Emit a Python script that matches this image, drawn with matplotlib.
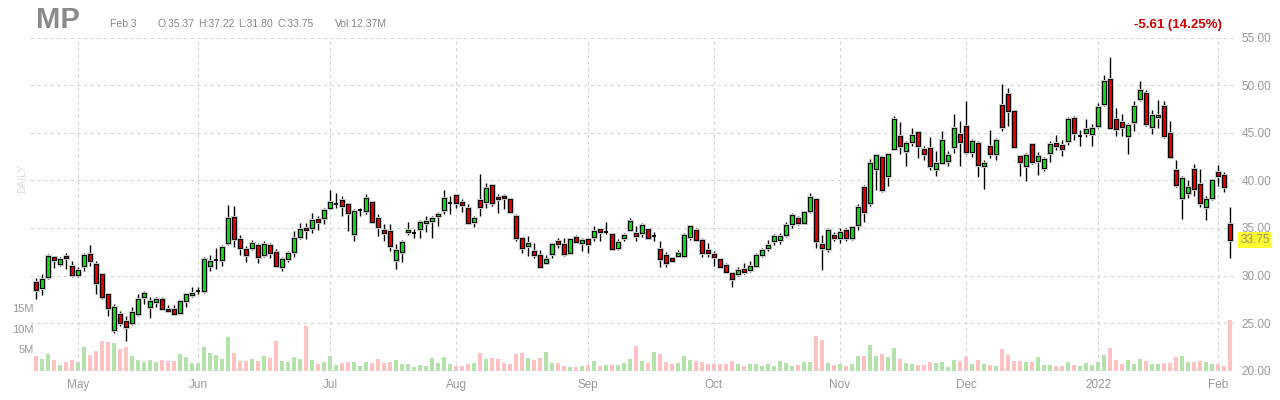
import numpy as np
import matplotlib
matplotlib.use('Agg')
import matplotlib.pyplot as plt
from matplotlib.transforms import blended_transform_factory

plt.rcParams['font.family'] = ['Liberation Sans', 'DejaVu Sans']

# daily candles, Apr 22 2021 .. Feb 3 2022
opens = [29.37, 28.72, 29.90, 32.00, 31.19, 32.07, 31.00,
         30.05, 31.00, 32.30, 31.26, 30.20, 28.05, 24.27, 25.95, 25.20, 25.00,
         25.95, 27.70, 26.70, 27.25, 27.50, 26.45, 26.50, 26.10, 27.35, 28.00,
         28.40, 28.40, 31.00, 31.60, 31.60, 33.47, 36.14, 33.82, 32.77, 32.88,
         33.23, 32.18, 33.23, 32.46, 30.95, 31.72, 32.50, 34.06, 35.04, 34.97,
         35.95, 36.09, 37.07, 37.53, 37.90, 37.56, 34.34, 36.93, 36.79, 37.74,
         36.09, 34.80, 34.70, 31.68, 32.50, 34.60, 34.45, 34.93, 35.50, 35.74,
         36.23, 36.86, 37.67, 38.47, 37.74, 37.07, 35.67, 37.98, 37.74, 39.49,
         38.26, 38.40, 38.00, 36.23, 33.92, 33.08, 32.59, 32.13, 31.36, 32.31,
         33.64, 33.30, 32.42, 34.10, 33.40, 33.82, 34.03, 34.87, 34.63, 34.38,
         32.87, 33.90, 34.84, 34.49, 34.45, 34.87, 34.17, 32.80, 32.14, 31.82,
         32.10, 32.10, 34.03, 34.80, 33.75, 32.70, 32.28, 31.72, 31.12, 30.24,
         30.14, 30.66, 30.59, 31.05, 32.14, 32.94, 33.68, 33.75, 34.28, 35.40,
         36.03, 35.51, 36.80, 38.07, 33.30, 32.77, 34.28, 33.93, 34.74, 34.00,
         35.33, 39.30, 37.62, 41.20, 42.46, 40.42, 43.30, 44.64, 43.13, 44.00,
         45.09, 43.34, 43.41, 41.20, 41.83, 42.00, 43.51, 44.88, 45.76, 42.95,
         43.93, 41.55, 43.65, 42.78, 47.97, 49.13, 47.34, 42.60, 41.55, 43.83,
         42.07, 41.30, 42.88, 43.93, 43.75, 44.10, 46.56, 44.70, 44.98, 44.88,
         45.76, 48.07, 50.70, 46.49, 46.14, 44.70, 46.11, 48.56, 49.19, 45.61,
         46.67, 47.79, 44.98, 41.05, 38.14, 38.66, 41.19, 39.61, 37.19, 38.14,
         40.84, 40.60, 35.37]
highs = [29.79, 30.20, 32.30, 32.07, 31.90, 32.40, 31.50,
         30.85, 32.40, 33.20, 31.54, 30.30, 28.20, 27.00, 26.30, 25.80, 26.65,
         28.05, 28.40, 27.70, 27.70, 27.70, 26.90, 26.90, 27.45, 28.20, 28.75,
         28.80, 31.90, 32.20, 32.90, 33.20, 37.44, 37.27, 34.28, 33.12, 33.75,
         33.40, 33.58, 33.47, 32.77, 32.00, 32.63, 34.70, 35.57, 35.57, 36.60,
         36.30, 37.14, 38.96, 38.70, 38.40, 37.67, 36.97, 37.14, 38.60, 37.84,
         36.44, 35.40, 35.46, 33.29, 33.71, 35.64, 34.87, 35.81, 36.27, 36.27,
         36.72, 38.96, 38.36, 38.61, 38.00, 37.49, 36.27, 40.64, 39.77, 39.59,
         38.54, 38.54, 38.12, 36.44, 34.06, 34.17, 33.46, 32.66, 32.13, 33.46,
         33.92, 33.90, 33.93, 34.28, 33.93, 33.93, 35.16, 34.98, 35.61, 34.45,
         33.82, 34.52, 36.03, 35.26, 35.51, 35.05, 34.63, 33.58, 32.52, 32.00,
         32.70, 34.45, 35.33, 35.05, 33.93, 33.40, 32.63, 31.82, 31.30, 30.31,
         30.87, 31.30, 31.54, 32.35, 32.87, 33.75, 34.38, 34.45, 35.68, 36.56,
         36.21, 36.73, 38.66, 38.14, 34.28, 35.00, 34.63, 34.98, 34.98, 35.23,
         37.55, 39.55, 42.25, 42.81, 42.60, 42.88, 46.74, 46.14, 44.11, 45.50,
         45.16, 43.58, 44.53, 43.06, 45.16, 43.06, 46.99, 46.21, 48.32, 44.35,
         44.11, 42.18, 45.34, 44.46, 50.18, 49.73, 47.44, 42.71, 42.88, 43.93,
         42.95, 42.46, 44.11, 44.81, 44.28, 46.67, 46.74, 45.26, 46.46, 45.96,
         48.14, 51.12, 52.99, 47.61, 46.98, 46.04, 48.32, 50.42, 49.54, 47.44,
         48.49, 48.32, 46.21, 42.10, 40.42, 40.07, 41.75, 41.23, 38.31, 40.14,
         41.65, 40.84, 37.22]
lows = [27.50, 28.00, 29.60, 30.80, 31.00, 30.70, 29.80,
        29.80, 30.50, 31.00, 28.05, 27.50, 25.80, 24.00, 24.70, 23.10, 24.80,
        25.80, 27.00, 25.50, 26.65, 26.40, 26.30, 25.90, 26.05, 26.70, 27.70,
        28.05, 28.20, 30.50, 30.70, 31.00, 33.23, 33.05, 32.18, 31.47, 32.70,
        31.30, 32.00, 31.82, 30.95, 30.53, 31.47, 31.90, 33.80, 33.80, 34.50,
        34.80, 35.40, 36.97, 37.10, 36.27, 34.70, 33.64, 36.27, 36.44, 35.57,
        34.17, 33.64, 32.59, 30.67, 31.47, 34.27, 33.90, 33.99, 34.62, 33.99,
        35.22, 36.44, 36.44, 37.14, 36.72, 35.39, 35.15, 36.27, 37.14, 37.32,
        36.62, 36.97, 36.62, 33.64, 32.42, 32.07, 31.89, 30.77, 31.19, 31.82,
        32.87, 32.10, 32.35, 33.40, 32.63, 32.42, 33.58, 33.58, 34.35, 32.70,
        32.70, 33.65, 34.73, 33.58, 34.10, 33.93, 33.65, 30.94, 30.94, 31.47,
        31.93, 32.07, 33.75, 33.58, 32.00, 32.00, 31.02, 30.77, 30.31, 28.84,
        29.96, 30.14, 30.42, 30.87, 32.00, 32.63, 33.23, 33.30, 34.10, 34.98,
        35.33, 35.44, 36.56, 32.87, 30.59, 32.50, 33.60, 33.40, 33.58, 33.75,
        34.81, 35.58, 37.34, 38.95, 38.74, 39.37, 43.16, 42.81, 41.48, 43.58,
        42.35, 42.18, 41.06, 40.50, 41.76, 41.48, 42.88, 41.55, 42.81, 42.46,
        40.32, 39.09, 42.32, 42.18, 45.16, 45.76, 43.41, 40.50, 39.90, 41.76,
        40.60, 40.95, 41.90, 43.20, 42.60, 43.75, 44.21, 43.58, 44.56, 43.65,
        45.51, 47.86, 45.40, 44.63, 44.63, 42.80, 45.16, 48.39, 45.75, 44.91,
        45.51, 44.46, 42.35, 39.30, 35.93, 38.14, 38.31, 37.19, 35.79, 37.96,
        39.37, 38.73, 31.80]
closes = [28.47, 29.62, 32.07, 31.65, 31.70, 31.80, 30.10,
          30.60, 32.17, 31.54, 29.27, 27.70, 26.58, 26.65, 24.97, 24.60, 26.20,
          27.50, 28.20, 27.30, 27.50, 26.50, 26.30, 25.95, 27.35, 28.05, 28.20,
          28.40, 31.70, 31.50, 31.60, 33.05, 36.04, 33.82, 32.88, 32.18, 33.40,
          32.00, 33.33, 32.42, 31.02, 31.72, 32.42, 33.95, 34.87, 34.80, 35.81,
          35.60, 36.90, 37.70, 37.53, 37.28, 36.55, 36.79, 36.93, 38.12, 35.67,
          35.11, 34.45, 33.08, 32.66, 33.53, 34.83, 34.45, 35.60, 35.74, 36.02,
          36.51, 38.12, 37.67, 37.67, 37.39, 35.57, 36.09, 37.24, 39.17, 37.67,
          38.00, 38.12, 36.72, 33.92, 32.94, 33.39, 32.13, 30.91, 31.78, 33.29,
          33.29, 32.30, 33.82, 33.54, 33.72, 33.30, 34.73, 34.56, 34.63, 32.80,
          33.50, 34.28, 35.72, 34.14, 35.33, 33.97, 34.17, 31.72, 31.30, 31.58,
          32.42, 34.28, 35.23, 33.75, 32.35, 32.35, 32.00, 30.94, 30.42, 29.61,
          30.59, 30.35, 31.00, 32.17, 32.70, 33.23, 34.14, 34.20, 35.33, 36.38,
          35.51, 36.66, 38.24, 33.58, 32.87, 34.80, 34.00, 34.56, 33.93, 35.09,
          37.20, 36.67, 41.83, 42.64, 39.02, 42.81, 46.46, 43.58, 43.93, 44.74,
          43.58, 42.78, 41.48, 41.83, 44.25, 42.67, 45.51, 44.00, 42.95, 44.11,
          41.58, 41.83, 42.78, 44.28, 45.62, 47.27, 43.48, 41.90, 42.64, 41.90,
          42.53, 42.25, 43.80, 43.65, 43.30, 46.49, 44.98, 44.70, 45.40, 45.51,
          47.72, 50.42, 45.51, 45.40, 45.61, 45.79, 47.79, 49.47, 45.93, 46.91,
          46.91, 44.63, 42.45, 39.47, 40.24, 39.30, 39.09, 37.61, 38.03, 40.00,
          40.42, 39.36, 33.75]
# volume in millions of shares
volumes = [3.6, 2.9, 4.1, 2.5, 1.4, 2.1, 2.6,
           2.1, 5.8, 3.9, 4.8, 7.3, 7.0, 6.8, 5.3, 5.8, 3.6,
           2.6, 2.1, 2.6, 2.1, 2.6, 2.4, 2.4, 4.1, 3.4, 1.9,
           1.9, 5.8, 4.3, 3.9, 2.9, 8.1, 4.3, 2.4, 2.4, 2.9,
           2.4, 3.6, 3.1, 7.3, 2.4, 2.2, 3.4, 2.9, 10.8, 2.6,
           1.6, 2.1, 3.6, 1.4, 1.9, 2.1, 2.1, 1.1, 2.1, 1.9,
           2.9, 1.9, 2.1, 2.6, 1.6, 1.6, 0.9, 1.4, 1.1, 3.1,
           1.9, 3.4, 1.6, 1.1, 1.1, 1.6, 1.9, 4.3, 2.9, 3.1,
           2.9, 1.9, 1.6, 4.1, 4.3, 3.1, 2.6, 3.1, 4.6, 1.9,
           1.9, 1.1, 0.9, 0.9, 1.1, 1.4, 2.4, 1.1, 1.4, 1.4,
           1.4, 1.9, 2.9, 6.1, 2.4, 1.9, 4.6, 4.1, 2.1, 1.6,
           1.9, 3.6, 2.6, 2.4, 2.1, 1.6, 1.6, 1.6, 1.6, 2.4,
           1.6, 1.1, 1.6, 1.6, 1.1, 1.6, 1.1, 2.4, 1.9, 1.1,
           1.4, 2.2, 2.2, 8.5, 7.5, 1.9, 1.4, 1.6, 1.1, 1.6,
           3.6, 3.6, 6.3, 3.6, 4.1, 3.4, 5.6, 2.9, 1.9, 1.6,
           1.4, 1.4, 2.1, 1.9, 2.1, 0.9, 2.6, 2.4, 3.4, 1.6,
           2.6, 1.6, 1.4, 1.1, 5.3, 3.9, 2.4, 2.4, 2.1, 2.1,
           3.4, 1.4, 1.4, 1.1, 1.1, 2.1, 1.4, 1.1, 1.9, 1.4,
           2.1, 3.9, 5.6, 2.6, 1.6, 2.6, 1.6, 2.9, 2.4, 1.6,
           1.6, 1.9, 1.9, 3.4, 3.6, 2.1, 2.1, 2.4, 2.1, 1.6,
           1.6, 1.1, 12.37]

month_pos = [7, 27, 49, 70, 92, 113, 134, 155, 177, 197]
month_labels = ['May', 'Jun', 'Jul', 'Aug', 'Sep', 'Oct', 'Nov', 'Dec', '2022', 'Feb']
ticker = 'MP'
last_date = 'Feb 3'

o = np.array(opens)
h = np.array(highs)
l = np.array(lows)
c = np.array(closes)
x = np.arange(len(c))
up = c > o
down = c < o
flat = c == o

fig = plt.figure(figsize=(12.8, 4), dpi=100)
ax = fig.add_axes([30 / 1280, 29.3 / 400, 1206 / 1280, 333 / 400])
vax = ax.twinx()
ax.set_zorder(vax.get_zorder() + 1)
ax.patch.set_visible(False)

# volume
vcol = np.where(c >= o, '#b3e3aa', '#ffc2c2')
vax.bar(x, volumes, width=0.8, color=vcol, linewidth=0)
vax.set_ylim(0, 333 / 4.1)
vax.set_yticks([])
vax.tick_params(right=False, labelright=False)
trans_v = blended_transform_factory(vax.transAxes, vax.transData)
for v in [5, 10, 15]:
    vax.text(0.003, v, f'{v}M', transform=trans_v, ha='right', va='center',
             color='#999999', fontsize=8)

# candles (light halo first, like the finviz rendering)
ax.vlines(x, l, h, color='black', linewidth=1, zorder=2)
for mask, col, base, top in [(up, '#16d816', o, c), (down, '#e00000', c, o)]:
    ax.bar(x[mask], (top - base)[mask], bottom=base[mask], width=0.66, color='none',
           edgecolor='#cfcfcf', linewidth=2.2, zorder=2.5)
    ax.bar(x[mask], (top - base)[mask], bottom=base[mask], width=0.66, color=col,
           edgecolor='black', linewidth=0.8, zorder=3)
ax.hlines(c[flat], x[flat] - 0.4, x[flat] + 0.4, color='black', linewidth=1.3, zorder=3)

ax.set_xlim(-1, 200)
ax.set_ylim(20, 55)
ax.set_yticks(np.arange(20, 56, 5))
ax.yaxis.set_major_formatter(matplotlib.ticker.FormatStrFormatter('%.2f'))
ax.yaxis.tick_right()
ax.set_xticks(month_pos)
ax.set_xticklabels(month_labels)
ax.tick_params(axis='both', length=0, colors='#999999', labelsize=8.5)
ax.tick_params(axis='x', pad=6)
ax.tick_params(axis='y', pad=4)
ax.grid(True, color='#d4d4d4', linestyle=(0, (3, 3)), linewidth=0.8)
for a in (ax, vax):
    for s in a.spines.values():
        s.set_visible(False)

# last price tag
ax.annotate(f'{c[-1]:.2f}', xy=(1, c[-1]), xycoords=blended_transform_factory(ax.transAxes, ax.transData),
            xytext=(3, 0), textcoords='offset points', ha='left', va='center',
            fontsize=8.5, color='#8f8f60',
            bbox=dict(boxstyle='square,pad=0.15', fc='#ffff33', ec='none'))

# header
fig.text(36 / 1280, 1 - 20 / 400, ticker, fontsize=21, fontweight='bold', color='#8a8a8a',
         ha='left', va='center')
info = [(110, last_date), (157, f'O:{o[-1]:.2f}'), (198, f'H:{h[-1]:.2f}'),
        (238, f'L:{l[-1]:.2f}'), (277, f'C:{c[-1]:.2f}'), (335, f'Vol:{volumes[-1]:.2f}M')]
for px, s in info:
    fig.text(px / 1280, 1 - 24 / 400, s, fontsize=7.5, color='#888888', ha='left', va='center')
chg = c[-1] - c[-2]
fig.text(1222 / 1280, 1 - 25 / 400, f'{chg:.2f} ({abs(chg) / c[-2] * 100:.2f}%)',
         fontsize=9.5, fontweight='bold', color='#d00000', ha='right', va='center')
fig.text(22 / 1280, 1 - 178 / 400, 'DAILY', rotation=90, color='#dadada', fontsize=7.5,
         ha='center', va='center')

fig.savefig('out.png', dpi=100)
